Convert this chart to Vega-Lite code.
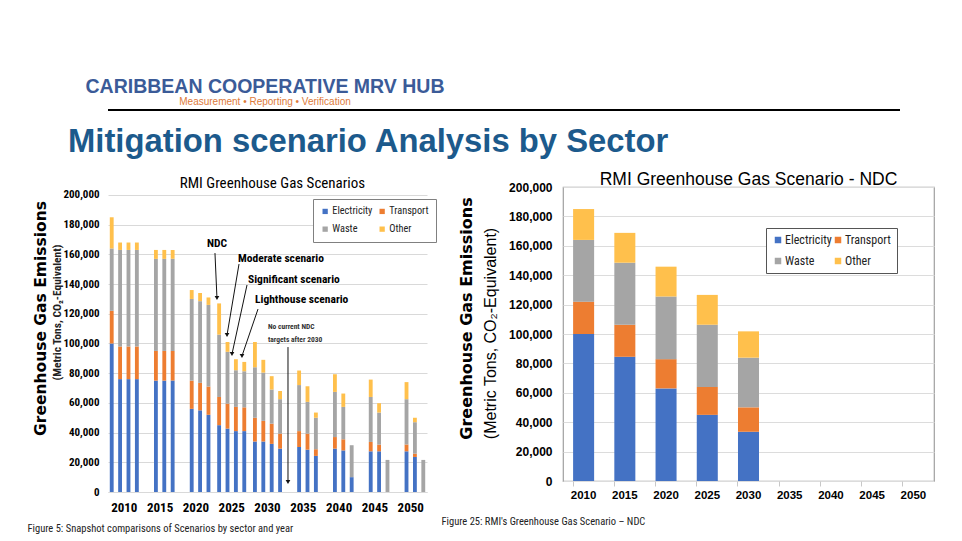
{
  "$schema": "https://vega.github.io/schema/vega-lite/v6.json",
  "background": "white",
  "padding": {"left": 27, "top": 76, "right": 0, "bottom": 0},
  "config": {"font": "Liberation Sans", "view": {"stroke": null}},
  "datasets": {
    "left": [
      {"year": 2010, "sc": "NDC", "Electricity": 100000, "Transport": 22000, "Waste": 42000, "Other": 21000},
      {"year": 2010, "sc": "Moderate", "Electricity": 76000, "Transport": 22000, "Waste": 65000, "Other": 5000},
      {"year": 2010, "sc": "Significant", "Electricity": 76000, "Transport": 22000, "Waste": 65000, "Other": 5000},
      {"year": 2010, "sc": "Lighthouse", "Electricity": 76000, "Transport": 22000, "Waste": 65000, "Other": 5000},
      {"year": 2015, "sc": "Moderate", "Electricity": 75000, "Transport": 20000, "Waste": 62000, "Other": 6000},
      {"year": 2015, "sc": "Significant", "Electricity": 75000, "Transport": 20000, "Waste": 62000, "Other": 6000},
      {"year": 2015, "sc": "Lighthouse", "Electricity": 75000, "Transport": 20000, "Waste": 62000, "Other": 6000},
      {"year": 2020, "sc": "Moderate", "Electricity": 56000, "Transport": 19000, "Waste": 55000, "Other": 6000},
      {"year": 2020, "sc": "Significant", "Electricity": 55000, "Transport": 18500, "Waste": 55000, "Other": 5500},
      {"year": 2020, "sc": "Lighthouse", "Electricity": 52000, "Transport": 19000, "Waste": 55000, "Other": 5000},
      {"year": 2025, "sc": "NDC", "Electricity": 45000, "Transport": 19000, "Waste": 42000, "Other": 21000},
      {"year": 2025, "sc": "Moderate", "Electricity": 42700, "Transport": 16800, "Waste": 34900, "Other": 6600},
      {"year": 2025, "sc": "Significant", "Electricity": 41000, "Transport": 16300, "Waste": 24700, "Other": 7400},
      {"year": 2025, "sc": "Lighthouse", "Electricity": 41000, "Transport": 16000, "Waste": 24300, "Other": 6300},
      {"year": 2030, "sc": "NDC", "Electricity": 34000, "Transport": 16000, "Waste": 34000, "Other": 17000},
      {"year": 2030, "sc": "Moderate", "Electricity": 34000, "Transport": 13900, "Waste": 32500, "Other": 8600},
      {"year": 2030, "sc": "Significant", "Electricity": 32400, "Transport": 13600, "Waste": 23000, "Other": 9000},
      {"year": 2030, "sc": "Lighthouse", "Electricity": 29200, "Transport": 10100, "Waste": 23200, "Other": 5500},
      {"year": 2035, "sc": "Moderate", "Electricity": 30300, "Transport": 10700, "Waste": 31000, "Other": 9800},
      {"year": 2035, "sc": "Significant", "Electricity": 28500, "Transport": 10800, "Waste": 21400, "Other": 10500},
      {"year": 2035, "sc": "Lighthouse", "Electricity": 24300, "Transport": 4500, "Waste": 21200, "Other": 3500},
      {"year": 2040, "sc": "Moderate", "Electricity": 29200, "Transport": 7800, "Waste": 30400, "Other": 11900},
      {"year": 2040, "sc": "Significant", "Electricity": 28000, "Transport": 7500, "Waste": 21800, "Other": 9000},
      {"year": 2040, "sc": "Lighthouse", "Electricity": 10000, "Transport": 0, "Waste": 21500, "Other": 0},
      {"year": 2045, "sc": "Moderate", "Electricity": 27400, "Transport": 6300, "Waste": 30300, "Other": 11700},
      {"year": 2045, "sc": "Significant", "Electricity": 27400, "Transport": 4500, "Waste": 21600, "Other": 6300},
      {"year": 2045, "sc": "Lighthouse", "Electricity": 0, "Transport": 0, "Waste": 21600, "Other": 0},
      {"year": 2050, "sc": "Moderate", "Electricity": 27400, "Transport": 4600, "Waste": 30500, "Other": 11500},
      {"year": 2050, "sc": "Significant", "Electricity": 23600, "Transport": 2200, "Waste": 21200, "Other": 3000},
      {"year": 2050, "sc": "Lighthouse", "Electricity": 0, "Transport": 0, "Waste": 21600, "Other": 0}
    ],
    "right": [
      {"year": 2010, "Electricity": 100000, "Transport": 22000, "Waste": 42000, "Other": 21000},
      {"year": 2015, "Electricity": 84500, "Transport": 21800, "Waste": 42200, "Other": 20300},
      {"year": 2020, "Electricity": 63000, "Transport": 19900, "Waste": 42600, "Other": 20300},
      {"year": 2025, "Electricity": 45000, "Transport": 19000, "Waste": 42300, "Other": 20300},
      {"year": 2030, "Electricity": 33500, "Transport": 16600, "Waste": 33800, "Other": 17900}
    ],
    "ann": [
      {"label": "NDC", "x": 2021.47, "y": 167000},
      {"label": "Moderate scenario", "x": 2025.84, "y": 156900},
      {"label": "Significant scenario", "x": 2027.25, "y": 142800},
      {"label": "Lighthouse scenario", "x": 2028.24, "y": 129300}
    ],
    "note": [
      {"label": "No current NDC", "x": 2030.07, "y": 111100},
      {"label": "targets after 2030", "x": 2030.07, "y": 102400}
    ],
    "arrows": [
      {"x": 2022.59, "y": 160900, "x2": 2022.87, "y2": 130600},
      {"x": 2025.98, "y": 153500, "x2": 2024.29, "y2": 105700},
      {"x": 2027.11, "y": 139400, "x2": 2024.99, "y2": 92900},
      {"x": 2028.66, "y": 123200, "x2": 2026.4, "y2": 91600},
      {"x": 2032.89, "y": 97600, "x2": 2032.89, "y2": 6700}
    ]
  },
  "align": "none",
  "spacing": 15,
  "vconcat": [
    {
      "width": 792,
      "height": 1,
      "title": {
        "text": "CARIBBEAN COOPERATIVE MRV HUB",
        "subtitle": "Measurement • Reporting • Verification",
        "anchor": "start",
        "align": "center",
        "dx": 173,
        "font": "Liberation Sans",
        "fontSize": 19.5,
        "fontWeight": "bold",
        "color": "#3b5b98",
        "subtitleFont": "Liberation Sans",
        "subtitleFontSize": 10,
        "subtitleColor": "#dd7a3a",
        "subtitlePadding": 0,
        "offset": 0
      },
      "data": {"values": [{}]},
      "mark": {"type": "rule", "color": "black", "strokeWidth": 2},
      "encoding": {
        "y": {
          "datum": 0,
          "type": "quantitative",
          "scale": {"domain": [0, 1]},
          "axis": {"title": ".", "titleOpacity": 0, "titleFontSize": 10, "titlePadding": 0, "labels": false, "ticks": false, "domain": false, "grid": false, "offset": 6}
        }
      }
    },
    {
      "title": {
        "text": "Mitigation scenario Analysis by Sector",
        "anchor": "start",
        "dx": 41,
        "font": "Liberation Sans",
        "fontSize": 32.8,
        "fontWeight": "bold",
        "color": "#1c5a8c",
        "offset": 11
      },
      "spacing": 3,
      "resolve": {"scale": {"color": "independent", "x": "independent", "y": "independent"}, "legend": {"color": "independent"}},
      "hconcat": [
        {
          "width": 319,
          "height": 305,
          "view": {"stroke": null},
          "title": {
            "text": "RMI Greenhouse Gas Scenarios",
            "font": "Liberation Sans Narrow, Roboto Condensed, Liberation Sans",
            "fontSize": 15,
            "fontWeight": "normal",
            "color": "#000000",
            "offset": -4,
            "dx": 5
          },
          "layer": [
            {
              "data": {"name": "left"},
              "transform": [
                {"fold": ["Electricity", "Transport", "Waste", "Other"], "as": ["sector", "value"]},
                {"calculate": "indexof(['Electricity','Transport','Waste','Other'], datum.sector)", "as": "k"}
              ],
              "mark": {"type": "bar"},
              "encoding": {
                "x": {
                  "field": "year",
                  "type": "ordinal",
                  "scale": {"paddingInner": 0.19, "paddingOuter": 0.05},
                  "axis": {
                    "title": "Figure 5: Snapshot comparisons of Scenarios by sector and year",
                    "titleFont": "Liberation Sans Narrow, Roboto Condensed, Liberation Sans",
                    "titleFontSize": 10.5,
                    "titleFontWeight": "normal",
                    "titleColor": "#222222",
                    "titleAnchor": "start",
                    "titleAlign": "left",
                    "titleX": -81,
                    "titlePadding": 9,
                    "labelAngle": 0,
                    "labelFont": "Liberation Sans Narrow, Roboto Condensed, Liberation Sans",
                    "labelFontSize": 13,
                    "labelFontWeight": "bold",
                    "labelColor": "#000000",
                    "labelPadding": 9,
                    "ticks": false,
                    "domain": true,
                    "domainColor": "#d9d9d9"
                  }
                },
                "xOffset": {
                  "field": "sc",
                  "type": "nominal",
                  "scale": {"domain": ["NDC", "Moderate", "Significant", "Lighthouse"], "paddingInner": 0.54}
                },
                "y": {
                  "field": "value",
                  "type": "quantitative",
                  "stack": "zero",
                  "scale": {"domain": [0, 205387], "nice": false},
                  "axis": {
                    "values": [0, 20000, 40000, 60000, 80000, 100000, 120000, 140000, 160000, 180000, 200000],
                    "format": ",.0f",
                    "formatType": "number",
                    "labelFont": "Liberation Sans Narrow, Roboto Condensed, Liberation Sans",
                    "labelFontSize": 11,
                    "labelFontWeight": "bold",
                    "labelColor": "#000000",
                    "labelPadding": 9,
                    "ticks": false,
                    "domain": false,
                    "grid": true,
                    "gridColor": "#d9d9d9",
                    "title": "(Metric Tons, CO₂-Equivalent)",
                    "titleFont": "Liberation Sans Narrow, Roboto Condensed, Liberation Sans",
                    "titleFontSize": 11.5,
                    "titleFontWeight": "bold",
                    "titleColor": "#222222",
                    "titleY": 125,
                    "titlePadding": 0
                  }
                },
                "color": {
                  "field": "sector",
                  "type": "nominal",
                  "scale": {"domain": ["Electricity", "Transport", "Waste", "Other"], "range": ["#4472C4", "#ED7D31", "#A5A5A5", "#FFC04C"]},
                  "legend": {
                    "orient": "none",
                    "legendX": 205,
                    "legendY": 12,
                    "direction": "horizontal",
                    "columns": 2,
                    "title": null,
                    "strokeColor": "#808080",
                    "fillColor": "white",
                    "padding": 7,
                    "symbolType": "square",
                    "symbolSize": 28,
                    "symbolStrokeWidth": 0,
                    "labelFont": "Liberation Sans Narrow, Roboto Condensed, Liberation Sans",
                    "labelFontSize": 10.3,
                    "labelColor": "#222222",
                    "columnPadding": 4,
                    "rowPadding": 7,
                    "labelOffset": 2
                  }
                },
                "order": {"field": "k", "type": "quantitative"}
              }
            },
            {
              "data": {"values": [{}]},
              "mark": {"type": "rule", "opacity": 0},
              "encoding": {
                "y": {
                  "datum": 0,
                  "type": "quantitative",
                  "axis": {
                    "orient": "left",
                    "labels": false,
                    "ticks": false,
                    "domain": false,
                    "grid": false,
                    "title": "Greenhouse Gas Emissions",
                    "titleFont": "DejaVu Sans",
                    "titleFontSize": 15.5,
                    "titleFontWeight": "bold",
                    "titleColor": "#000000",
                    "titleY": 131,
                    "titlePadding": 0,
                    "offset": 60
                  }
                }
              }
            },
            {
              "data": {"name": "ann"},
              "mark": {"type": "text", "align": "left", "baseline": "middle", "font": "Liberation Sans Narrow, Roboto Condensed, Liberation Sans", "fontSize": 11.5, "fontWeight": "bold", "color": "#000000"},
              "encoding": {
                "x": {"field": "x", "type": "quantitative", "scale": {"domain": [2007.5, 2052.5], "nice": false, "zero": false}, "axis": null},
                "y": {"field": "y", "type": "quantitative", "axis": null},
                "text": {"field": "label"}
              }
            },
            {
              "data": {"name": "note"},
              "mark": {"type": "text", "align": "left", "baseline": "middle", "font": "Liberation Sans Narrow, Roboto Condensed, Liberation Sans", "fontSize": 7.5, "fontWeight": "bold", "color": "#333333"},
              "encoding": {
                "x": {"field": "x", "type": "quantitative", "scale": {"domain": [2007.5, 2052.5], "nice": false, "zero": false}, "axis": null},
                "y": {"field": "y", "type": "quantitative", "axis": null},
                "text": {"field": "label"}
              }
            },
            {
              "data": {"name": "arrows"},
              "mark": {"type": "rule", "color": "#111111", "strokeWidth": 1},
              "encoding": {
                "x": {"field": "x", "type": "quantitative", "scale": {"domain": [2007.5, 2052.5], "nice": false, "zero": false}, "axis": null},
                "x2": {"field": "x2"},
                "y": {"field": "y", "type": "quantitative", "axis": null},
                "y2": {"field": "y2"}
              }
            },
            {
              "data": {"name": "arrows"},
              "mark": {"type": "point", "shape": "triangle-down", "filled": true, "color": "#111111", "size": 22, "opacity": 1},
              "encoding": {
                "x": {"field": "x2", "type": "quantitative", "scale": {"domain": [2007.5, 2052.5], "nice": false, "zero": false}, "axis": null},
                "y": {"field": "y2", "type": "quantitative", "axis": null}
              }
            }
          ],
          "resolve": {"scale": {"x": "independent"}, "axis": {"x": "independent", "y": "independent"}}
        },
        {
          "width": 371,
          "height": 294,
          "view": {"stroke": "#a0a0a0", "strokeWidth": 1.2},
          "title": {
            "text": "RMI Greenhouse Gas Scenario - NDC",
            "font": "Liberation Sans",
            "fontSize": 17.5,
            "fontWeight": "normal",
            "color": "#000000",
            "offset": -7
          },
          "layer": [
            {
              "data": {"name": "right"},
              "transform": [
                {"fold": ["Electricity", "Transport", "Waste", "Other"], "as": ["sector", "value"]},
                {"calculate": "indexof(['Electricity','Transport','Waste','Other'], datum.sector)", "as": "k"}
              ],
              "mark": {"type": "bar"},
              "encoding": {
                "x": {
                  "field": "year",
                  "type": "ordinal",
                  "scale": {"domain": [2010, 2015, 2020, 2025, 2030, 2035, 2040, 2045, 2050], "paddingInner": 0.49, "paddingOuter": 0.245},
                  "axis": {
                    "title": "Figure 25: RMI's Greenhouse Gas Scenario – NDC",
                    "titleFont": "Liberation Sans Narrow, Roboto Condensed, Liberation Sans",
                    "titleFontSize": 10.5,
                    "titleFontWeight": "normal",
                    "titleColor": "#222222",
                    "titleAnchor": "start",
                    "titleAlign": "left",
                    "titleX": -122,
                    "titlePadding": 16,
                    "labelAngle": 0,
                    "labelFont": "Liberation Sans",
                    "labelFontSize": 11.5,
                    "labelFontWeight": "bold",
                    "labelColor": "#000000",
                    "labelPadding": 3,
                    "ticks": true,
                    "bandPosition": 0,
                    "tickColor": "#c8c8c8",
                    "tickSize": 5,
                    "domain": false
                  }
                },
                "y": {
                  "field": "value",
                  "type": "quantitative",
                  "stack": "zero",
                  "scale": {"domain": [0, 200000], "nice": false},
                  "axis": {
                    "values": [0, 20000, 40000, 60000, 80000, 100000, 120000, 140000, 160000, 180000, 200000],
                    "format": ",.0f",
                    "formatType": "number",
                    "labelFont": "Liberation Sans",
                    "labelFontSize": 12,
                    "labelFontWeight": "bold",
                    "labelColor": "#000000",
                    "labelPadding": 11,
                    "ticks": false,
                    "domain": false,
                    "grid": true,
                    "gridColor": "#dcdcdc",
                    "title": "(Metric Tons, CO₂-Equivalent)",
                    "titleFont": "Liberation Sans",
                    "titleFontSize": 16,
                    "titleFontWeight": "normal",
                    "titleColor": "#000000",
                    "titleY": 146,
                    "titlePadding": 10
                  }
                },
                "color": {
                  "field": "sector",
                  "type": "nominal",
                  "scale": {"domain": ["Electricity", "Transport", "Waste", "Other"], "range": ["#4472C4", "#ED7D31", "#A5A5A5", "#FFC04C"]},
                  "legend": {
                    "orient": "none",
                    "legendX": 203,
                    "legendY": 41,
                    "direction": "horizontal",
                    "columns": 2,
                    "title": null,
                    "strokeColor": "#555555",
                    "fillColor": "white",
                    "padding": 6,
                    "symbolType": "square",
                    "symbolSize": 42,
                    "symbolStrokeWidth": 0,
                    "labelFont": "Liberation Sans Narrow, Roboto Condensed, Liberation Sans",
                    "labelFontSize": 12,
                    "labelColor": "#222222",
                    "columnPadding": 0,
                    "rowPadding": 9,
                    "labelOffset": 1
                  }
                },
                "order": {"field": "k", "type": "quantitative"}
              }
            },
            {
              "data": {"values": [{}]},
              "mark": {"type": "rule", "opacity": 0},
              "encoding": {
                "y": {
                  "datum": 0,
                  "type": "quantitative",
                  "axis": {
                    "orient": "left",
                    "labels": false,
                    "ticks": false,
                    "domain": false,
                    "grid": false,
                    "title": "Greenhouse Gas Emissions",
                    "titleFont": "DejaVu Sans",
                    "titleFontSize": 16,
                    "titleFontWeight": "bold",
                    "titleColor": "#000000",
                    "titleY": 131,
                    "titlePadding": 0,
                    "offset": 89
                  }
                }
              }
            }
          ],
          "resolve": {"axis": {"y": "independent"}}
        }
      ]
    }
  ]
}
